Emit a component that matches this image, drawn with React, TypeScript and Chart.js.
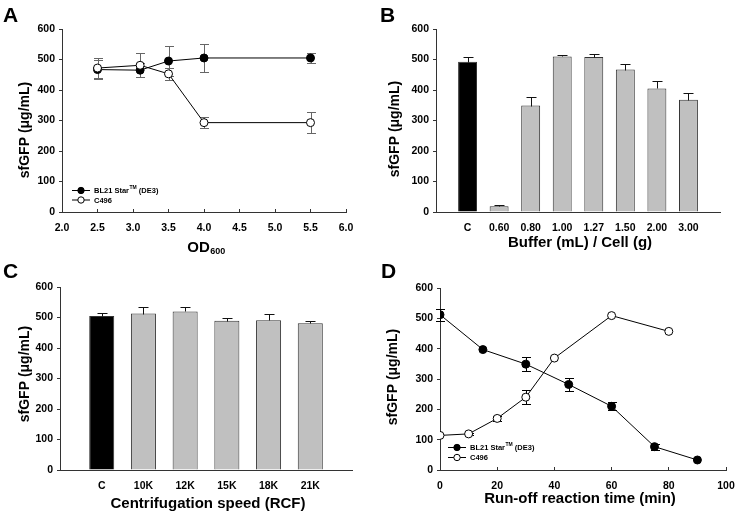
import React, { useEffect, useRef } from 'react';
import { Chart, registerables } from 'chart.js';
Chart.register(...registerables);

const FONT = '"Liberation Sans", Arial, Helvetica, sans-serif';

// ---------- Panel A: OD600 ----------
const odX = [2.5, 3.1, 3.5, 4.0, 5.5];
const aBL21 = [467, 465, 495, 505, 505];
const aBL21Err = [30, 24, 50, 45, 17];
const aC496 = [472, 481, 453, 293, 293];
const aC496Err = [33, 40, 20, 18, 35];

// ---------- Panel B: Buffer / Cell ----------
const bLabels = ['C', '0.60', '0.80', '1.00', '1.27', '1.50', '2.00', '3.00'];
const bValues = [493, 19, 349, 510, 508, 467, 405, 368];
const bErr = [14, 3, 28, 4, 11, 19, 23, 21];

// ---------- Panel C: Centrifugation ----------
const cLabels = ['C', '10K', '12K', '15K', '18K', '21K'];
const cValues = [505, 513, 520, 489, 491, 481];
const cErr = [9, 20, 13, 8, 21, 9];

// ---------- Panel D: Run-off ----------
const dTimeBL = [0, 15, 30, 45, 60, 75, 90];
const dBL = [512, 397, 349, 282, 210, 77, 33];
const dBLErr = [20, 0, 23, 22, 13, 10, 0];
const dTimeC = [0, 10, 20, 30, 40, 60, 80];
const dC = [114, 119, 170, 240, 369, 509, 457];
const dCErr = [0, 4, 8, 23, 0, 0, 0];

const seriesNames = ['BL21 Star™ (DE3)', 'C496'];
const yTitle = 'sfGFP (μg/mL)';

const W = 369;
const H = 257;

type Area = { l: number; t: number; r: number; b: number };

const tickFont = { family: FONT, size: 10.5, weight: 'bold' as const };

function drawErrors(chart: any, phase: string) {
  const ctx = chart.ctx;
  chart.data.datasets.forEach((ds: any, di: number) => {
    if (!ds.errors) return;
    if ((ds.errorPhase || 'before') !== phase) return;
    const meta = chart.getDatasetMeta(di);
    const yScale = chart.scales[meta.yAxisID];
    ctx.save();
    ctx.strokeStyle = ds.errorColor || '#000';
    ctx.lineWidth = 1;
    meta.data.forEach((el: any, i: number) => {
      const e = ds.errors[i];
      if (!e) return;
      const raw = ds.data[i];
      const v = typeof raw === 'number' ? raw : raw.y;
      const x = Math.round(el.x) + 0.5;
      const yTop = Math.round(yScale.getPixelForValue(v + e)) + 0.5;
      const yBot = Math.round(yScale.getPixelForValue(ds.errorUpOnly ? v : v - e)) + 0.5;
      const cap = (ds.errorCap || 8) / 2;
      ctx.beginPath();
      ctx.moveTo(x, yTop);
      ctx.lineTo(x, yBot);
      ctx.moveTo(x - cap, yTop);
      ctx.lineTo(x + cap, yTop);
      if (!ds.errorUpOnly) {
        ctx.moveTo(x - cap, yBot);
        ctx.lineTo(x + cap, yBot);
      }
      ctx.stroke();
    });
    ctx.restore();
  });
}

const errorBarPlugin = {
  id: 'errbars',
  beforeDatasetsDraw(chart: any) {
    drawErrors(chart, 'before');
  },
  afterDatasetsDraw(chart: any) {
    drawErrors(chart, 'after');
  },
};

type Decor = {
  letter: string;
  letterX: number;
  letterY: number;
  yTitleX: number;
  yTitleY: number;
  xTitle: string;
  xSub?: string;
  xTitleX: number;
  xTitleY: number;
  legend?: { x: number; y: number; dy: number };
};

function makeDecorPlugin(d: Decor) {
  return {
    id: 'decor',
    afterDraw(chart: any) {
      const ctx = chart.ctx;
      ctx.save();
      ctx.fillStyle = '#000';
      // panel letter
      ctx.font = `bold 21px ${FONT}`;
      ctx.textAlign = 'left';
      ctx.textBaseline = 'alphabetic';
      ctx.fillText(d.letter, d.letterX, d.letterY);
      // y title
      ctx.save();
      ctx.translate(d.yTitleX, d.yTitleY);
      ctx.rotate(-Math.PI / 2);
      ctx.font = `bold 14px ${FONT}`;
      ctx.textAlign = 'center';
      ctx.textBaseline = 'middle';
      ctx.fillText(yTitle, 0, 0);
      ctx.restore();
      // x title
      ctx.font = `bold 15px ${FONT}`;
      ctx.textBaseline = 'middle';
      if (d.xSub) {
        const w1 = ctx.measureText(d.xTitle).width;
        ctx.font = `bold 9px ${FONT}`;
        const w2 = ctx.measureText(d.xSub).width;
        const start = d.xTitleX - (w1 + w2) / 2;
        ctx.textAlign = 'left';
        ctx.font = `bold 15px ${FONT}`;
        ctx.fillText(d.xTitle, start, d.xTitleY);
        ctx.font = `bold 9px ${FONT}`;
        ctx.fillText(d.xSub, start + w1 + 0.5, d.xTitleY + 4);
      } else {
        ctx.textAlign = 'center';
        ctx.fillText(d.xTitle, d.xTitleX, d.xTitleY);
      }
      // legend
      if (d.legend) {
        const { x, y, dy } = d.legend;
        const filled = [true, false];
        seriesNames.forEach((name, i) => {
          const yy = y + i * dy;
          ctx.strokeStyle = '#000';
          ctx.lineWidth = 1;
          ctx.beginPath();
          ctx.moveTo(x, yy + 0.5);
          ctx.lineTo(x + 18, yy + 0.5);
          ctx.stroke();
          ctx.beginPath();
          ctx.arc(x + 9, yy + 0.5, 3.2, 0, Math.PI * 2);
          ctx.fillStyle = filled[i] ? '#000' : '#fff';
          ctx.fill();
          ctx.stroke();
          ctx.fillStyle = '#000';
          ctx.textAlign = 'left';
          ctx.textBaseline = 'middle';
          let tx = x + 22;
          const parts = name.split('™');
          ctx.font = `bold 7.5px ${FONT}`;
          ctx.fillText(parts[0], tx, yy + 1);
          tx += ctx.measureText(parts[0]).width;
          if (parts.length > 1) {
            ctx.font = `bold 5px ${FONT}`;
            ctx.fillText('TM', tx + 0.5, yy - 2);
            tx += ctx.measureText('TM').width + 0.5;
            ctx.font = `bold 7.5px ${FONT}`;
            ctx.fillText(parts[1], tx, yy + 1);
          }
        });
      }
      ctx.restore();
    },
  };
}

function yScaleOpts(area: Area) {
  return {
    type: 'linear',
    min: 0,
    max: 600,
    ticks: { stepSize: 100, font: tickFont, color: '#000', padding: 4 },
    grid: { display: true, drawOnChartArea: false, drawTicks: true, tickLength: 3, color: '#333' },
    border: { display: true, color: '#333', width: 1 },
    afterFit: (s: any) => {
      s.width = area.l;
      s.paddingTop = 0;
      s.paddingBottom = 0;
    },
  };
}

function layoutFor(area: Area) {
  return { padding: { left: 0, top: area.t, right: W - area.r, bottom: 0 } };
}

function fixX(area: Area) {
  return (s: any) => {
    s.height = H - area.b;
    s.paddingLeft = 0;
    s.paddingRight = 0;
  };
}

function lineConfig(area: Area, xMin: number, xMax: number, step: number, fmt: (v: number) => string, sets: any[], decor: Decor) {
  return {
    type: 'scatter',
    data: { datasets: sets },
    options: {
      animation: false,
      responsive: false,
      layout: layoutFor(area),
      plugins: { legend: { display: false }, tooltip: { enabled: false } },
      scales: {
        x: {
          type: 'linear',
          min: xMin,
          max: xMax,
          ticks: { stepSize: step, autoSkip: false, callback: (v: any) => fmt(Number(v)), font: tickFont, color: '#000', padding: 13, maxRotation: 0 },
          grid: { display: true, drawOnChartArea: false, drawTicks: true, tickLength: -3, color: '#333' },
          border: { display: true, color: '#333', width: 1 },
          afterFit: fixX(area),
        },
        y: yScaleOpts(area),
      },
    },
    plugins: [errorBarPlugin, makeDecorPlugin(decor)],
  };
}

function lineSet(xs: number[], ys: number[], errs: number[], filled: boolean, errColor: string, order: number) {
  return {
    data: xs.map((x, i) => ({ x, y: ys[i] })),
    showLine: true,
    borderColor: '#000',
    borderWidth: 1,
    backgroundColor: filled ? '#000' : '#fff',
    pointBackgroundColor: filled ? '#000' : '#fff',
    pointBorderColor: '#000',
    pointBorderWidth: 1,
    pointRadius: 4,
    errors: errs,
    errorColor: errColor,
    errorCap: 9,
    errorPhase: 'before',
    order,
  };
}

function barConfig(area: Area, labels: string[], values: number[], errs: number[], decor: Decor) {
  return {
    type: 'bar',
    data: {
      datasets: [
        {
          data: values.map((v, i) => ({ x: i + 1, y: v })),
          backgroundColor: labels.map((_, i) => (i === 0 ? '#000' : '#c0c0c0')),
          borderColor: '#333',
          borderWidth: 1,
          barPercentage: 0.6,
          categoryPercentage: 1,
          errors: errs,
          errorColor: '#111',
          errorCap: 10,
          errorUpOnly: true,
          errorPhase: 'after',
        },
      ],
    },
    options: {
      animation: false,
      responsive: false,
      layout: layoutFor(area),
      plugins: { legend: { display: false }, tooltip: { enabled: false } },
      scales: {
        x: {
          type: 'linear',
          min: 0,
          max: labels.length + 1,
          offset: false,
          afterBuildTicks: (s: any) => {
            s.ticks = labels.map((_, i) => ({ value: i + 1 }));
          },
          ticks: { autoSkip: false, callback: (v: any) => labels[Number(v) - 1] ?? '', font: tickFont, color: '#000', padding: 10, maxRotation: 0 },
          grid: { display: true, offset: false, drawOnChartArea: false, drawTicks: false, color: '#333' },
          border: { display: true, color: '#333', width: 1 },
          afterFit: fixX(area),
        },
        y: yScaleOpts(area),
      },
    },
    plugins: [errorBarPlugin, makeDecorPlugin(decor)],
  };
}

function Panel({ left, top, build }: { left: number; top: number; build: () => any }) {
  const ref = useRef<HTMLCanvasElement | null>(null);
  useEffect(() => {
    if (!ref.current) return;
    const chart = new Chart(ref.current, build());
    return () => chart.destroy();
  }, []);
  return <canvas ref={ref} width={W} height={H} style={{ position: 'absolute', left, top, width: W, height: H }} />;
}

const areaA: Area = { l: 62, t: 29, r: 346, b: 212 };
const areaB: Area = { l: 67, t: 29, r: 351, b: 212 };
const areaC: Area = { l: 60, t: 30, r: 352, b: 213 };
const areaD: Area = { l: 71, t: 31, r: 357, b: 213 };

export default function App() {
  return (
    <div style={{ position: 'absolute', left: 0, top: 0, width: 738, height: 514, background: '#fff', overflow: 'hidden' }}>
      <Panel
        left={0}
        top={0}
        build={() =>
          lineConfig(
            areaA,
            2,
            6,
            0.5,
            (v) => v.toFixed(1),
            [lineSet(odX, aC496, aC496Err, false, '#666', 1), lineSet(odX, aBL21, aBL21Err, true, '#666', 2)],
            {
              letter: 'A', letterX: 3, letterY: 22,
              yTitleX: 25, yTitleY: 130,
              xTitle: 'OD', xSub: '600', xTitleX: 206, xTitleY: 248,
              legend: { x: 72, y: 190, dy: 9.5 },
            }
          )
        }
      />
      <Panel
        left={369}
        top={0}
        build={() =>
          barConfig(areaB, bLabels, bValues, bErr, {
            letter: 'B', letterX: 11, letterY: 22,
            yTitleX: 26, yTitleY: 129,
            xTitle: 'Buffer (mL) / Cell (g)', xTitleX: 211, xTitleY: 243,
          })
        }
      />
      <Panel
        left={0}
        top={257}
        build={() =>
          barConfig(areaC, cLabels, cValues, cErr, {
            letter: 'C', letterX: 3, letterY: 21,
            yTitleX: 25, yTitleY: 117,
            xTitle: 'Centrifugation speed (RCF)', xTitleX: 208, xTitleY: 247,
          })
        }
      />
      <Panel
        left={369}
        top={257}
        build={() =>
          lineConfig(
            areaD,
            0,
            100,
            20,
            (v) => String(Math.round(v)),
            [lineSet(dTimeC, dC, dCErr, false, '#000', 1), lineSet(dTimeBL, dBL, dBLErr, true, '#000', 2)],
            {
              letter: 'D', letterX: 12, letterY: 21,
              yTitleX: 24, yTitleY: 120,
              xTitle: 'Run-off reaction time (min)', xTitleX: 211, xTitleY: 242,
              legend: { x: 79, y: 190, dy: 10 },
            }
          )
        }
      />
    </div>
  );
}
